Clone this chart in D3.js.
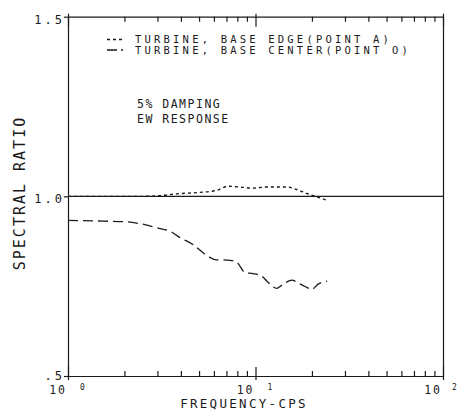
<!DOCTYPE html>
<html>
<head>
<meta charset="utf-8">
<script src="https://cdn.jsdelivr.net/npm/d3@7"></script>
<style>
body { margin: 0; background: #fff; }
svg text { font-family: "DejaVu Sans Mono", monospace; fill: #1a1a1a; }
.axis path, .axis line { stroke: #1a1a1a; stroke-width: 1.2; }
</style>
</head>
<body>
<svg id="chart" width="464" height="418"></svg>
<script>
// curve for point O (base center), dashed
var freqO = [1.0, 1.54, 2.06, 2.42, 3.10, 3.5, 3.96, 4.64, 5.58, 6.08, 7.31, 7.97, 8.79, 9.70, 10.8, 11.7, 13.0, 14.0, 15.7, 16.6, 18.4, 20.0, 21.5, 24.1];
var ratioO = [0.933, 0.931, 0.929, 0.924, 0.910, 0.903, 0.885, 0.866, 0.833, 0.824, 0.822, 0.816, 0.788, 0.785, 0.778, 0.760, 0.744, 0.755, 0.767, 0.761, 0.749, 0.741, 0.755, 0.764];
// curve for point A (base edge), dotted
var freqA = [1.0, 2.5, 3.10, 3.81, 5.06, 6.23, 7.13, 8.27, 9.70, 11.5, 14.7, 16.6, 18.8, 20.3, 24.1];
var ratioA = [1.0, 1.0, 1.002, 1.007, 1.011, 1.017, 1.028, 1.026, 1.023, 1.026, 1.026, 1.019, 1.008, 1.002, 0.989];

var yTicks = [0.5, 1.0, 1.5];
var yTickLabels = [".5", "1.0", "1.5"];
var decades = [1, 10, 100];
var decadeExp = ["0", "1", "2"];
var legendLabels = ["TURBINE, BASE EDGE(POINT A)", "TURBINE, BASE CENTER(POINT O)"];
var notes = ["5% DAMPING", "EW RESPONSE"];

var svg = d3.select("#chart");
var pLeft = 68, pRight = 443, pTop = 16.7, pBottom = 376;

var x = d3.scaleLog().domain([1, 100]).range([pLeft, pRight]);
var y = d3.scaleLinear().domain([0.5, 1.5]).range([pBottom, pTop]);

var allTicks = [];
[1, 10].forEach(function(d) { for (var k = 1; k <= 9; k++) allTicks.push(d * k); });
allTicks.push(100);

function isDecade(v) { return decades.indexOf(v) >= 0; }

// bottom axis, ticks inside
var gb = svg.append("g").attr("class", "axis")
  .attr("transform", "translate(0," + pBottom + ")")
  .call(d3.axisBottom(x).tickValues(allTicks).tickSize(-5).tickSizeOuter(0).tickFormat(""));
gb.selectAll(".tick line")
  .attr("y1", function(d) { return isDecade(d) ? 4 : 0; })
  .attr("y2", function(d) { return isDecade(d) ? -9 : -5; });

// top axis, ticks inside
var gt = svg.append("g").attr("class", "axis")
  .attr("transform", "translate(0," + pTop + ")")
  .call(d3.axisTop(x).tickValues(allTicks).tickSize(-5).tickSizeOuter(0).tickFormat(""));
gt.selectAll(".tick line")
  .attr("y1", function(d) { return isDecade(d) ? -3 : 0; })
  .attr("y2", function(d) { return isDecade(d) ? 10 : 5; });

// left axis
var gl = svg.append("g").attr("class", "axis")
  .attr("transform", "translate(" + pLeft + ",0)")
  .call(d3.axisLeft(y).tickValues(yTicks).tickSize(4).tickSizeOuter(0)
    .tickFormat(function(d, i) { return yTickLabels[i]; }));
gl.selectAll(".tick text")
  .attr("x", -3).attr("dy", function(d) { return d == 0.5 ? "0.25em" : "0.55em"; })
  .style("font-size", "12px").style("letter-spacing", "3px");

// right axis (plain line)
svg.append("g").attr("class", "axis")
  .attr("transform", "translate(" + pRight + ",0)")
  .call(d3.axisRight(y).tickValues([]).tickSizeOuter(0));

// x decade labels 10^n
decades.forEach(function(d, i) {
  svg.append("text")
    .attr("x", x(d) - 1).attr("y", 393.5)
    .attr("text-anchor", "end")
    .style("font-size", "11.5px").style("letter-spacing", "2px")
    .text("10");
  svg.append("text")
    .attr("x", x(d) + (i == 2 ? 9 : 12)).attr("y", 389.5)
    .style("font-size", "8px")
    .text(decadeExp[i]);
});

// axis titles
svg.append("text")
  .attr("x", 244).attr("y", 408)
  .attr("text-anchor", "middle")
  .style("font-size", "12.5px").style("letter-spacing", "2.3px")
  .text("FREQUENCY-CPS");

svg.append("text")
  .attr("transform", "translate(25,193) rotate(-90)")
  .attr("text-anchor", "middle")
  .style("font-size", "15px").style("letter-spacing", "2px")
  .text("SPECTRAL RATIO");

// reference line at 1.0
svg.append("line")
  .attr("x1", pLeft).attr("x2", pRight)
  .attr("y1", y(1)).attr("y2", y(1))
  .attr("stroke", "#1a1a1a").attr("stroke-width", 1.3);

var line = d3.line()
  .x(function(d) { return x(d[0]); })
  .y(function(d) { return y(d[1]); })
  .curve(d3.curveMonotoneX);

svg.append("path")
  .datum(d3.zip(freqA, ratioA))
  .attr("d", line)
  .attr("fill", "none").attr("stroke", "#1a1a1a")
  .attr("stroke-width", 1.4).attr("stroke-dasharray", "3,3");

svg.append("path")
  .datum(d3.zip(freqO, ratioO))
  .attr("d", line)
  .attr("fill", "none").attr("stroke", "#1a1a1a")
  .attr("stroke-width", 1.3).attr("stroke-dasharray", "10,5");

// legend
var legDash = ["3,3", "10,4"];
legendLabels.forEach(function(t, i) {
  svg.append("line")
    .attr("x1", 107).attr("x2", 123)
    .attr("y1", 39.5 + i * 10.5).attr("y2", 39.5 + i * 10.5)
    .attr("stroke", "#1a1a1a").attr("stroke-width", 1.3)
    .attr("stroke-dasharray", legDash[i]);
  svg.append("text")
    .attr("x", 135).attr("y", 43.3 + i * 10.5)
    .style("font-size", "10.5px").style("letter-spacing", "3.2px")
    .text(t);
});

notes.forEach(function(t, i) {
  svg.append("text")
    .attr("x", 137).attr("y", 108 + i * 15)
    .style("font-size", "11.5px").style("letter-spacing", "1.5px")
    .text(t);
});
</script>
</body>
</html>
